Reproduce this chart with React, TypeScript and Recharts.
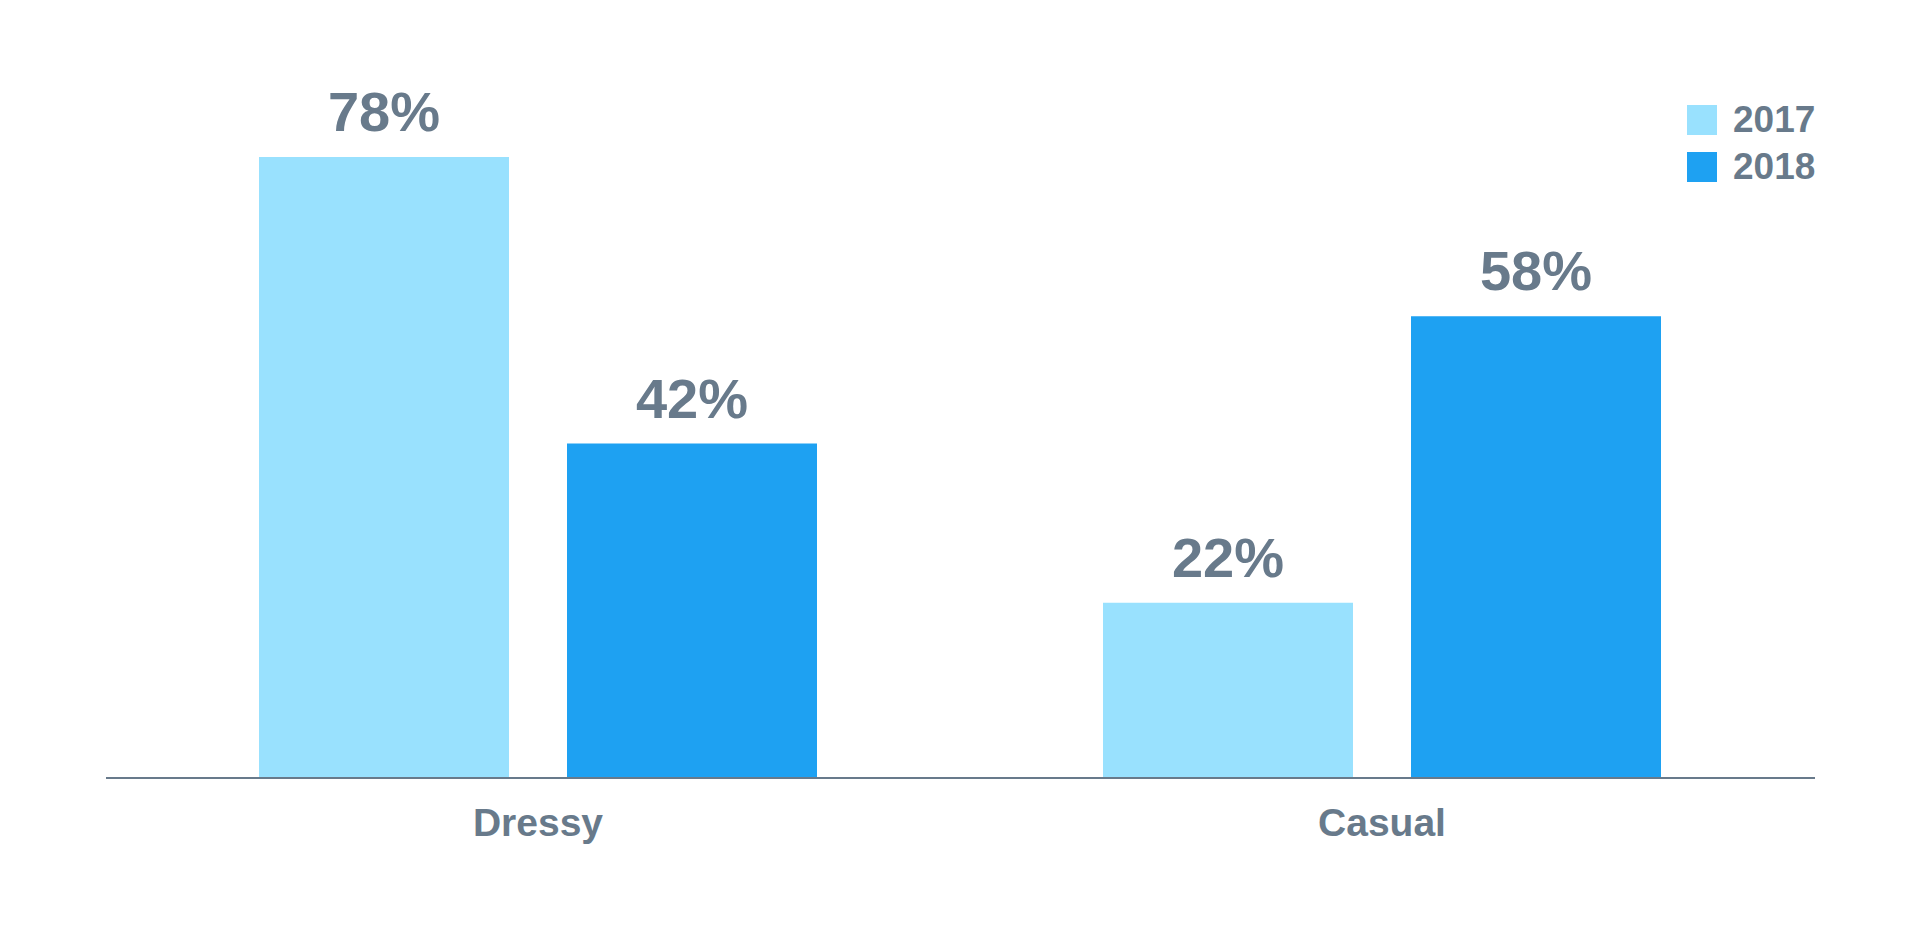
import { BarChart, Bar, XAxis, YAxis, LabelList } from "recharts"

const categories = ["Dressy", "Casual"]
const values2017 = [78, 22]
const values2018 = [42, 58]
const seriesNames = ["2017", "2018"]

const LIGHT = "#99e1fe"
const DARK = "#1ea1f2"
const SLATE = "#687a8b"
const FONT = "'Liberation Sans', Arial, Helvetica, sans-serif"

const data = categories.map((name, i) => ({
  name,
  y2017: values2017[i],
  y2018: values2018[i],
}))

// legend drawn as an overlay so it doesn't eat into the plot area
function LegendBox() {
  const items = [
    { label: seriesNames[0], colour: LIGHT },
    { label: seriesNames[1], colour: DARK },
  ]
  return (
    <div style={{ position: "absolute", top: 105, left: 1687, display: "flex", flexDirection: "column", gap: 17 }}>
      {items.map((it) => (
        <div key={it.label} style={{ display: "flex", alignItems: "center", height: 30 }}>
          <span style={{ width: 30, height: 30, background: it.colour, display: "inline-block" }} />
          <span style={{ marginLeft: 16, fontFamily: FONT, fontWeight: 700, fontSize: 37, color: SLATE, lineHeight: "30px" }}>
            {it.label}
          </span>
        </div>
      ))}
    </div>
  )
}

export default function App() {
  const pct = (v: unknown) => `${v}%`
  return (
    <div style={{ position: "absolute", top: 0, left: 0, width: 1921, height: 937, background: "#fff" }}>
      <BarChart
        width={1921}
        height={937}
        data={data}
        margin={{ top: 141, right: 106, bottom: 79, left: 106 }}
        barSize={250}
        barGap={58}
      >
        <XAxis
          dataKey="name"
          height={80}
          axisLine={{ stroke: SLATE, strokeWidth: 2 }}
          tickLine={false}
          tickSize={0}
          tickMargin={30}
          padding={{ left: 10, right: 11 }}
          tick={{ fill: SLATE, fontSize: 39, fontWeight: 700, fontFamily: FONT }}
        />
        <YAxis hide domain={[0, 80]} />
        <Bar dataKey="y2017" name={seriesNames[0]} fill={LIGHT} isAnimationActive={false}>
          <LabelList dataKey="y2017" position="top" offset={26} formatter={pct}
            style={{ fill: SLATE, fontSize: 56, fontWeight: 700, fontFamily: FONT }} />
        </Bar>
        <Bar dataKey="y2018" name={seriesNames[1]} fill={DARK} isAnimationActive={false}>
          <LabelList dataKey="y2018" position="top" offset={26} formatter={pct}
            style={{ fill: SLATE, fontSize: 56, fontWeight: 700, fontFamily: FONT }} />
        </Bar>
      </BarChart>
      <LegendBox />
    </div>
  )
}
